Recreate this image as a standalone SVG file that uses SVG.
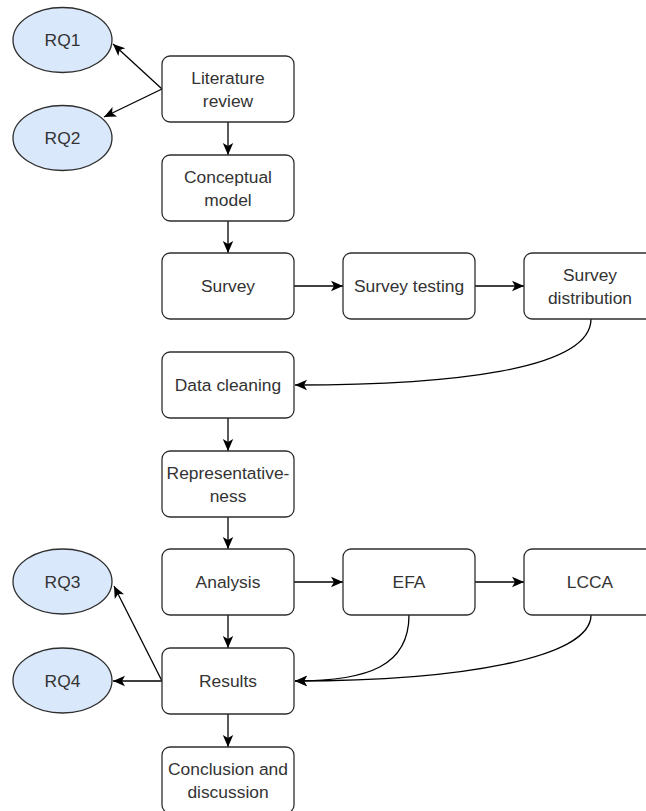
<svg xmlns="http://www.w3.org/2000/svg" width="646" height="811" viewBox="0 0 646 811">
  <style>
    .box { fill: #ffffff; stroke: #2e2e2e; stroke-width: 1.3; }
    .rq { fill: #dae8fc; stroke: #2e2e2e; stroke-width: 1.3; }
    .lbl { font-family: "Liberation Sans", Arial, sans-serif; font-size: 17.4px; fill: #333333; text-anchor: middle; }
    .edge { fill: none; stroke: #000000; stroke-width: 1.3; marker-end: url(#arrow); }
  </style>
  <defs>
    <marker id="arrow" markerUnits="userSpaceOnUse" markerWidth="14" markerHeight="14" viewBox="0 0 14 14" refX="12.5" refY="7" orient="auto">
      <path d="M0.5,1.8 L12.5,7 L0.5,12.2 L3.5,7 Z" fill="#000000"/>
    </marker>
  </defs>

  <rect width="646" height="811" fill="#ffffff"/>

  <!-- connectors -->
  <g id="connectors">
    <path class="edge" d="M162,89 L113,44"/>
    <path class="edge" d="M162,89 L104,117"/>
    <path class="edge" d="M228,122 L228,155"/>
    <path class="edge" d="M228,221 L228,253"/>
    <path class="edge" d="M294,286 L343,286"/>
    <path class="edge" d="M475,286 L524,286"/>
    <path class="edge" d="M591,319 C591,370 450,385 295,385"/>
    <path class="edge" d="M228,418 L228,451"/>
    <path class="edge" d="M228,517 L228,549"/>
    <path class="edge" d="M294,582 L343,582"/>
    <path class="edge" d="M475,582 L524,582"/>
    <path class="edge" d="M228,615 L228,648"/>
    <path class="edge" d="M409,615 C409,665 370,681 295,681"/>
    <path class="edge" d="M591,615 C591,658 460,681 295,681"/>
    <path class="edge" d="M228,714 L228,747"/>
    <path class="edge" d="M162,681 L113,681"/>
    <path class="edge" d="M162,681 L114,586"/>
  </g>

  <!-- research question nodes -->
  <g id="rq1">
    <ellipse class="rq" cx="62.5" cy="40" rx="49.5" ry="32.5"/>
    <text class="lbl" x="62.5" y="46">RQ1</text>
  </g>
  <g id="rq2">
    <ellipse class="rq" cx="62.5" cy="138" rx="49.5" ry="32.5"/>
    <text class="lbl" x="62.5" y="144">RQ2</text>
  </g>
  <g id="rq3">
    <ellipse class="rq" cx="62.5" cy="581.5" rx="49.5" ry="32.5"/>
    <text class="lbl" x="62.5" y="587.5">RQ3</text>
  </g>
  <g id="rq4">
    <ellipse class="rq" cx="62.5" cy="680.5" rx="49.5" ry="32.5"/>
    <text class="lbl" x="62.5" y="686.5">RQ4</text>
  </g>

  <!-- process steps -->
  <g id="literature-review">
    <rect class="box" x="162" y="56" width="132" height="66" rx="8"/>
    <text class="lbl" x="228" y="83.5">Literature</text>
    <text class="lbl" x="228" y="106.5">review</text>
  </g>
  <g id="conceptual-model">
    <rect class="box" x="162" y="155" width="132" height="66" rx="8"/>
    <text class="lbl" x="228" y="182.5">Conceptual</text>
    <text class="lbl" x="228" y="205.5">model</text>
  </g>
  <g id="survey">
    <rect class="box" x="162" y="253" width="132" height="66" rx="8"/>
    <text class="lbl" x="228" y="292">Survey</text>
  </g>
  <g id="survey-testing">
    <rect class="box" x="343" y="253" width="132" height="66" rx="8"/>
    <text class="lbl" x="409" y="292">Survey testing</text>
  </g>
  <g id="survey-distribution">
    <rect class="box" x="524" y="253" width="132" height="66" rx="8"/>
    <text class="lbl" x="590" y="280.5">Survey</text>
    <text class="lbl" x="590" y="303.5">distribution</text>
  </g>
  <g id="data-cleaning">
    <rect class="box" x="162" y="352" width="132" height="66" rx="8"/>
    <text class="lbl" x="228" y="391">Data cleaning</text>
  </g>
  <g id="representativeness">
    <rect class="box" x="162" y="451" width="132" height="66" rx="8"/>
    <text class="lbl" x="228" y="478.5">Representative-</text>
    <text class="lbl" x="228" y="501.5">ness</text>
  </g>
  <g id="analysis">
    <rect class="box" x="162" y="549" width="132" height="66" rx="8"/>
    <text class="lbl" x="228" y="588">Analysis</text>
  </g>
  <g id="efa">
    <rect class="box" x="343" y="549" width="132" height="66" rx="8"/>
    <text class="lbl" x="409" y="588">EFA</text>
  </g>
  <g id="lcca">
    <rect class="box" x="524" y="549" width="132" height="66" rx="8"/>
    <text class="lbl" x="590" y="588">LCCA</text>
  </g>
  <g id="results">
    <rect class="box" x="162" y="648" width="132" height="66" rx="8"/>
    <text class="lbl" x="228" y="687">Results</text>
  </g>
  <g id="conclusion">
    <rect class="box" x="162" y="747" width="132" height="66" rx="8"/>
    <text class="lbl" x="228" y="774.5">Conclusion and</text>
    <text class="lbl" x="228" y="797.5">discussion</text>
  </g>
</svg>
